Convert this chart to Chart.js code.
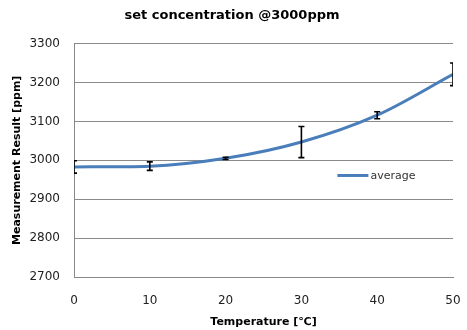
<!DOCTYPE html>
<html>
<head>
<meta charset="utf-8">
<script src="https://cdn.jsdelivr.net/npm/chart.js@4.4.1/dist/chart.umd.min.js"></script>
<style>
  html, body { margin: 0; padding: 0; background: #fff; }
  #wrap { width: 467px; height: 330px; }
</style>
</head>
<body>
<div id="wrap"><canvas id="chart" width="467" height="330"></canvas></div>
<script>
const temps = [0, 10, 20, 30, 40, 50];
const averages = [2983, 2985, 3005, 3047, 3116, 3221];
const errors = [16, 11, 3, 40, 9, 29]; // +/- spread
const yTicks = [2700, 2800, 2900, 3000, 3100, 3200, 3300];

const FONT = "'DejaVu Sans', sans-serif";

// error bars drawn through the scales
const errorBars = {
  id: "errorBars",
  afterDatasetsDraw(chart) {
    const { ctx, chartArea, scales } = chart;
    ctx.save();
    ctx.beginPath();
    ctx.rect(chartArea.left, chartArea.top - 20, chartArea.right - chartArea.left, chartArea.bottom - chartArea.top + 20);
    ctx.clip();
    ctx.strokeStyle = "#000";
    ctx.lineWidth = 1.6;
    temps.forEach((t, i) => {
      const x = scales.x.getPixelForValue(t);
      const yHi = scales.y.getPixelForValue(averages[i] + errors[i]);
      const yLo = scales.y.getPixelForValue(averages[i] - errors[i]);
      ctx.beginPath();
      ctx.moveTo(x, yHi); ctx.lineTo(x, yLo);
      ctx.moveTo(x - 3, yHi); ctx.lineTo(x + 3, yHi);
      ctx.moveTo(x - 3, yLo); ctx.lineTo(x + 3, yLo);
      ctx.stroke();
    });
    ctx.restore();
  }
};

// legend inside the plot area
const insideLegend = {
  id: "insideLegend",
  afterDraw(chart) {
    const { ctx, chartArea } = chart;
    const x = chartArea.left + (chartArea.right - chartArea.left) * 0.695;
    const y = chartArea.top + (chartArea.bottom - chartArea.top) * 0.565;
    ctx.save();
    ctx.strokeStyle = "#4a7ebb";
    ctx.lineWidth = 3;
    ctx.beginPath();
    ctx.moveTo(x, y); ctx.lineTo(x + 31, y);
    ctx.stroke();
    ctx.fillStyle = "#333";
    ctx.font = "11px " + FONT;
    ctx.textBaseline = "middle";
    ctx.fillText("average", x + 33, y + 1);
    ctx.restore();
  }
};

new Chart(document.getElementById("chart"), {
  type: "line",
  data: {
    datasets: [{
      label: "average",
      data: temps.map((t, i) => ({ x: t, y: averages[i] })),
      borderColor: "#4a7ebb",
      borderWidth: 3,
      pointRadius: 0,
      cubicInterpolationMode: "monotone",
      fill: false
    }]
  },
  options: {
    responsive: false,
    animation: false,
    layout: { padding: { left: 11, right: 14, top: 4, bottom: 1 } },
    plugins: {
      legend: { display: false },
      tooltip: { enabled: false },
      title: {
        display: true,
        text: "set concentration @3000ppm",
        color: "#000",
        font: { family: FONT, size: 13, weight: "bold" },
        padding: { top: 4, bottom: 20 }
      }
    },
    scales: {
      x: {
        type: "linear",
        min: 0, max: 50,
        ticks: { stepSize: 10, color: "#222", font: { family: FONT, size: 12 }, padding: 17 },
        grid: { display: false, drawTicks: false },
        border: { color: "#888", width: 1 },
        title: {
          display: true, text: "Temperature [℃]", color: "#000",
          font: { family: FONT, size: 11, weight: "bold" }, padding: { top: 8, bottom: 0 }
        },
        afterFit: s => { s.height = 52; s.paddingLeft = 0; s.paddingRight = 7; }
      },
      y: {
        min: 2700, max: 3300,
        afterBuildTicks: s => { s.ticks = yTicks.map(v => ({ value: v })); },
        ticks: {
          color: "#222", font: { family: FONT, size: 12 }, padding: 14,
          callback: v => String(v)
        },
        grid: { color: "#8a8a8a", lineWidth: 1, drawTicks: false },
        border: { color: "#888", width: 1 },
        title: {
          display: true, text: "Measurement Result [ppm]", color: "#000",
          font: { family: FONT, size: 11, weight: "bold" }, padding: { top: 0, bottom: 8 }
        },
        afterFit: s => { s.width = 63; }
      }
    }
  },
  plugins: [errorBars, insideLegend]
});
</script>
</body>
</html>
